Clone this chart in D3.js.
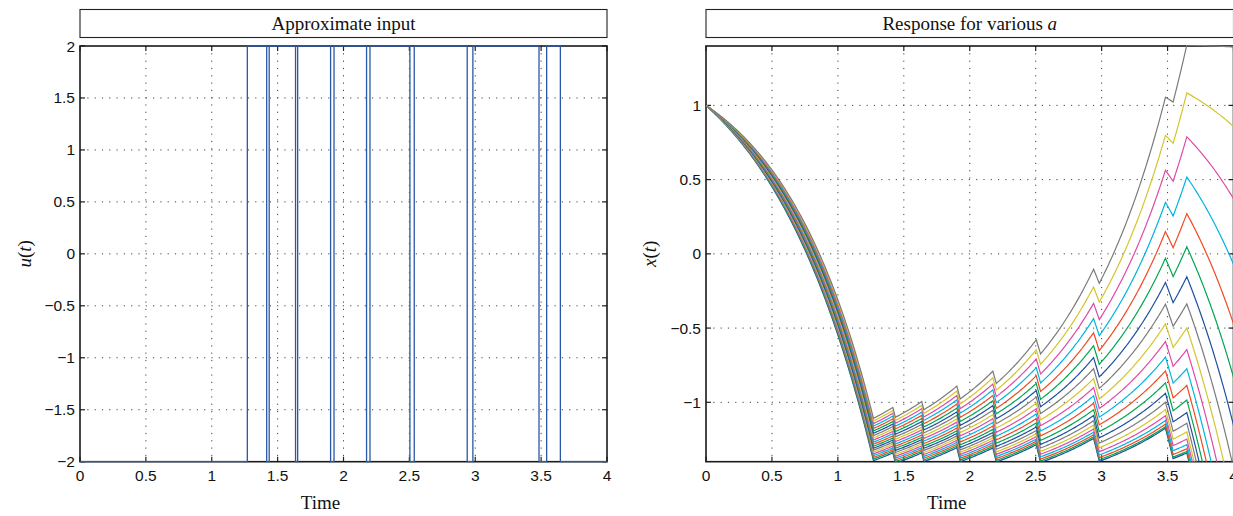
<!DOCTYPE html>
<html>
<head>
<meta charset="utf-8">
<script src="https://cdn.jsdelivr.net/npm/d3@7"></script>
<style>
  body { margin: 0; background: #fff; }
  svg { display: block; }
  .tick-label { font-family: "Liberation Sans", Arial, Helvetica, sans-serif; font-size: 15.5px; fill: #111; }
  .serif { font-family: "Liberation Serif", "Times New Roman", serif; font-size: 19px; fill: #111; }
</style>
</head>
<body>
<div id="chart"></div>
<script>
// ---------- data ----------
// switching instants of the bang-bang input
const switchTimes = [1.270, 1.417, 1.436, 1.636, 1.652, 1.902, 1.928, 2.175, 2.201,
                     2.504, 2.537, 2.939, 2.982, 3.484, 3.542, 3.646];
// input level on each interval between switches
const inputLevels = [-2, 2, -2, 2, -2, 2, -2, 2, -2, 2, -2, 2, -2, 2, -2, 2, -2];
const tStart = 0, tEnd = 4;
const x0 = 1;
// the parameter a of x' = a x + u, one curve each
const aValues = [1.20, 1.21, 1.22, 1.23, 1.24, 1.25, 1.26, 1.27, 1.28, 1.29, 1.30,
                 1.31, 1.32, 1.33, 1.34, 1.35, 1.36, 1.37, 1.38, 1.39, 1.40];
const lineColors = ["#1f4fa0", "#00a651", "#ef4a23", "#00b4e2", "#de4aa5", "#d3c52d", "#7b7b7b"];

const timeTicks = [0, 0.5, 1, 1.5, 2, 2.5, 3, 3.5, 4];
const uTicks = [-2, -1.5, -1, -0.5, 0, 0.5, 1, 1.5, 2];
const xTicks = [-1, -0.5, 0, 0.5, 1];
const uDomain = [-2, 2];
const xDomain = [-1.4, 1.4];

// ---------- layout ----------
const width = 1233, height = 516;
const plotTop = 46, plotBottom = 461.7;
const panels = [
  { left: 80, right: 607, title: "Approximate input", ylab: "u", ylabX: 31 },
  { left: 706, right: 1233.5, title: "Response for various ", ylab: "x", ylabX: 656 }
];

const svg = d3.select("#chart").append("svg")
  .attr("width", width).attr("height", height);

const fmt = v => String(v).replace("-", "\u2212");

function drawFrame(p, y, yTicks) {
  const x = d3.scaleLinear().domain([tStart, tEnd]).range([p.left, p.right]);
  const g = svg.append("g");

  // title box
  g.append("rect")
    .attr("x", p.left).attr("y", 9.5)
    .attr("width", p.right - p.left).attr("height", 28)
    .attr("fill", "none").attr("stroke", "#222").attr("stroke-width", 1.1);

  // dotted grid
  g.selectAll(".vgrid").data(timeTicks.slice(1, -1)).enter().append("line")
    .attr("x1", d => x(d)).attr("x2", d => x(d))
    .attr("y1", plotTop).attr("y2", plotBottom)
    .attr("stroke", "#444").attr("stroke-width", 1)
    .attr("stroke-dasharray", "1.2,6.1");
  g.selectAll(".hgrid").data(yTicks.filter(v => y(v) > plotTop + 1 && y(v) < plotBottom - 1)).enter().append("line")
    .attr("x1", p.left).attr("x2", p.right)
    .attr("y1", d => y(d)).attr("y2", d => y(d))
    .attr("stroke", "#444").attr("stroke-width", 1)
    .attr("stroke-dasharray", "1.2,6.1");

  // inward ticks on all four sides
  timeTicks.forEach(t => {
    g.append("line").attr("x1", x(t)).attr("x2", x(t)).attr("y1", plotTop).attr("y2", plotTop + 5)
      .attr("stroke", "#222").attr("stroke-width", 1.2);
    g.append("line").attr("x1", x(t)).attr("x2", x(t)).attr("y1", plotBottom).attr("y2", plotBottom - 5)
      .attr("stroke", "#222").attr("stroke-width", 1.2);
  });
  yTicks.forEach(v => {
    g.append("line").attr("x1", p.left).attr("x2", p.left + 5).attr("y1", y(v)).attr("y2", y(v))
      .attr("stroke", "#222").attr("stroke-width", 1.2);
    g.append("line").attr("x1", p.right).attr("x2", p.right - 5).attr("y1", y(v)).attr("y2", y(v))
      .attr("stroke", "#222").attr("stroke-width", 1.2);
  });

  // frame
  g.append("rect")
    .attr("x", p.left).attr("y", plotTop)
    .attr("width", p.right - p.left).attr("height", plotBottom - plotTop)
    .attr("fill", "none").attr("stroke", "#1a1a1a").attr("stroke-width", 1.6);

  // tick labels
  g.selectAll(".xl").data(timeTicks).enter().append("text")
    .attr("class", "tick-label")
    .attr("x", d => x(d)).attr("y", 481)
    .attr("text-anchor", "middle")
    .text(d => fmt(d));
  g.selectAll(".yl").data(yTicks).enter().append("text")
    .attr("class", "tick-label")
    .attr("x", p.left - 5).attr("y", d => y(d) + 5.5)
    .attr("text-anchor", "end")
    .text(d => fmt(d));

  // axis labels
  g.append("text").attr("class", "serif")
    .attr("x", (p.left + p.right) / 2 - 23).attr("y", 509)
    .attr("text-anchor", "middle").text("Time");

  const yl = g.append("text").attr("class", "serif")
    .attr("transform", `translate(${p.ylabX},${(plotTop + plotBottom) / 2}) rotate(-90)`)
    .attr("text-anchor", "middle");
  yl.append("tspan").attr("font-style", "italic").text(p.ylab);
  yl.append("tspan").text("(");
  yl.append("tspan").attr("font-style", "italic").text("t");
  yl.append("tspan").text(")");

  // title
  const tt = g.append("text").attr("class", "serif")
    .attr("x", (p.left + p.right) / 2).attr("y", 29.5)
    .attr("text-anchor", "middle");
  tt.append("tspan").text(p.title);
  if (p.ylab === "x") tt.append("tspan").attr("font-style", "italic").text("a");

  return x;
}

// ---------- left panel: input ----------
const bounds = [tStart, ...switchTimes, tEnd];
const yU = d3.scaleLinear().domain(uDomain).range([plotBottom, plotTop]);
const xL = drawFrame(panels[0], yU, uTicks);

const stairs = [];
inputLevels.forEach((u, k) => {
  stairs.push([bounds[k], u], [bounds[k + 1], u]);
});
svg.append("path")
  .datum(stairs)
  .attr("fill", "none")
  .attr("stroke", "#2a58a8")
  .attr("stroke-width", 1.3)
  .attr("d", d3.line().x(d => xL(d[0])).y(d => yU(d[1])));

// ---------- right panel: responses ----------
const yX = d3.scaleLinear().domain(xDomain).range([plotBottom, plotTop]);
const xR = drawFrame(panels[1], yX, xTicks);

svg.append("clipPath").attr("id", "clipR")
  .append("rect")
  .attr("x", panels[1].left).attr("y", plotTop - 1)
  .attr("width", panels[1].right - panels[1].left).attr("height", plotBottom - plotTop + 1);

// piecewise exact solution of x' = a x + u for the constant u on each interval
function response(a) {
  const pts = [[tStart, x0]];
  let x = x0;
  inputLevels.forEach((u, k) => {
    const t0 = bounds[k], t1 = bounds[k + 1];
    const n = Math.max(1, Math.ceil((t1 - t0) / 0.01));
    const h = (t1 - t0) / n;
    for (let j = 1; j <= n; j++) {
      x = (x + u / a) * Math.exp(a * h) - u / a;
      pts.push([t0 + j * h, x]);
    }
  });
  return pts;
}

const curves = aValues.map(a => ({ a, pts: response(a) }));

svg.append("g").attr("clip-path", "url(#clipR)")
  .selectAll("path").data(curves).enter().append("path")
  .attr("fill", "none")
  .attr("stroke", (d, i) => lineColors[i % lineColors.length])
  .attr("stroke-width", 1.2)
  .attr("d", d => d3.line().x(p => xR(p[0])).y(p => yX(p[1]))(d.pts));
</script>
</body>
</html>
